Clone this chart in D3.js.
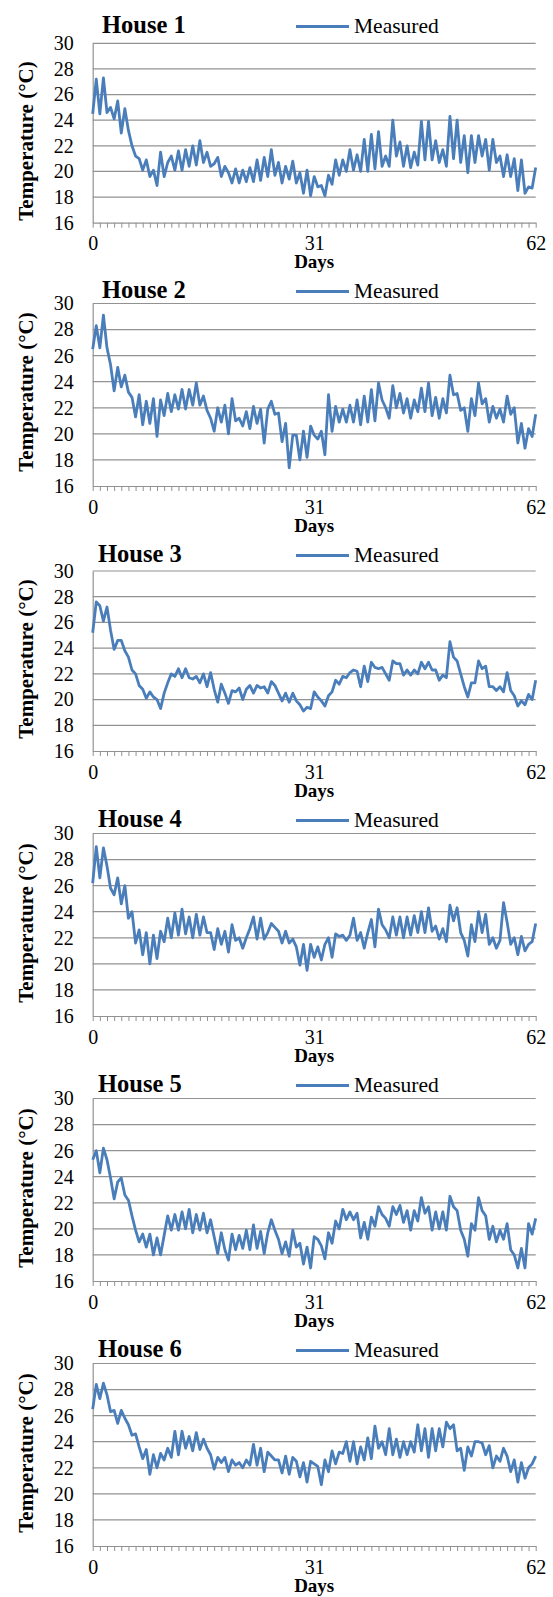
<!DOCTYPE html>
<html>
<head>
<meta charset="utf-8">
<script src="https://cdn.jsdelivr.net/npm/d3@7"></script>
<style>
  body { margin: 0; background: #fff; }
  text { font-family: "Liberation Serif", "Times New Roman", serif; fill: #000; }
</style>
</head>
<body>
<script>
// indoor temperature, two readings per day (day 0 .. 62)
const house1 = [24.5, 27.2, 24.5, 27.3, 24.6, 25.0, 24.1, 25.5, 23.0, 24.9,
  23.2, 22.0, 21.2, 21.0, 20.1, 20.9, 19.6, 20.1, 18.9, 21.5,
  19.6, 20.7, 21.2, 20.1, 21.6, 20.1, 21.7, 20.4, 22.0, 20.5,
  22.4, 20.7, 21.5, 20.4, 20.6, 21.1, 19.6, 20.4, 19.9, 19.1,
  20.2, 19.1, 20.1, 19.2, 20.3, 19.2, 20.9, 19.3, 21.1, 19.6,
  21.7, 19.7, 20.7, 19.1, 20.4, 19.4, 20.8, 19.1, 19.9, 18.3,
  20.1, 18.1, 19.6, 18.8, 18.9, 18.1, 19.7, 19.0, 20.9, 19.7,
  20.9, 20.0, 21.7, 20.1, 21.3, 20.0, 22.5, 20.0, 22.9, 20.2,
  23.1, 20.4, 21.2, 20.4, 24.0, 21.2, 22.3, 20.4, 22.0, 20.3,
  21.5, 20.5, 23.9, 20.9, 23.9, 20.9, 22.4, 20.7, 21.7, 20.4,
  24.3, 21.0, 24.0, 20.7, 22.8, 19.9, 22.8, 20.7, 22.8, 21.2,
  22.5, 20.1, 22.5, 20.7, 21.2, 19.6, 21.3, 19.6, 21.0, 18.5,
  20.9, 18.3, 18.8, 18.7, 20.3];
const house2 = [26.5, 28.3, 26.6, 29.1, 26.6, 25.3, 23.3, 25.1, 23.6, 24.5,
  23.2, 22.8, 21.3, 23.0, 20.7, 22.5, 20.8, 22.7, 19.8, 22.6,
  21.4, 23.1, 21.7, 23.0, 21.9, 23.4, 21.9, 23.4, 22.2, 23.9,
  22.2, 22.9, 21.8, 21.2, 20.2, 22.0, 20.9, 22.2, 20.0, 22.7,
  21.0, 21.2, 20.6, 21.7, 20.4, 22.1, 20.8, 21.9, 19.3, 21.9,
  22.5, 21.5, 21.6, 19.4, 20.8, 17.4, 19.9, 19.9, 18.0, 20.2,
  18.2, 20.6, 19.9, 19.6, 20.2, 18.4, 23.0, 20.2, 22.1, 20.9,
  21.9, 20.9, 22.2, 20.9, 22.6, 20.7, 22.9, 20.9, 23.4, 21.0,
  23.9, 22.6, 22.0, 21.2, 23.7, 22.0, 23.1, 21.6, 22.7, 21.2,
  22.6, 21.7, 23.5, 21.7, 23.9, 21.4, 22.8, 21.2, 22.7, 21.6,
  24.5, 23.0, 23.1, 21.8, 22.0, 20.2, 22.7, 21.4, 23.9, 22.3,
  22.7, 20.9, 22.1, 21.2, 21.9, 20.9, 22.9, 21.5, 22.0, 19.3,
  20.8, 18.9, 20.4, 19.8, 21.5];
const house3 = [25.2, 27.6, 27.3, 26.1, 27.2, 25.4, 23.9, 24.6, 24.6, 23.8,
  23.3, 22.3, 22.0, 21.1, 20.8, 20.1, 20.6, 20.2, 20.0, 19.3,
  20.5, 21.3, 22.0, 21.8, 22.4, 21.7, 22.4, 21.7, 21.6, 21.8,
  21.3, 22.0, 21.0, 22.1, 20.8, 19.8, 21.2, 20.5, 19.7, 20.7,
  20.6, 20.9, 20.0, 20.8, 21.1, 20.5, 21.1, 20.9, 21.0, 20.5,
  21.4, 21.1, 20.5, 19.9, 20.5, 19.8, 20.5, 19.9, 19.6, 19.1,
  19.4, 19.3, 20.6, 20.2, 19.9, 19.5, 20.3, 20.6, 21.5, 21.2,
  21.8, 21.7, 22.1, 22.3, 22.2, 21.0, 22.6, 21.4, 22.9, 22.5,
  22.4, 22.5, 22.0, 21.5, 23.0, 22.8, 22.8, 21.9, 22.3, 21.9,
  22.3, 22.0, 22.9, 22.4, 22.9, 22.3, 22.3, 21.5, 21.9, 21.7,
  24.5, 23.3, 23.0, 22.0, 21.0, 20.2, 21.3, 21.3, 23.0, 22.4,
  22.6, 21.0, 21.0, 20.7, 21.0, 20.6, 22.1, 20.7, 20.3, 19.5,
  19.9, 19.6, 20.4, 20.0, 21.5];
const house4 = [26.2, 29.0, 26.6, 28.9, 27.5, 25.8, 25.3, 26.6, 24.6, 26.0,
  23.5, 24.0, 21.6, 22.6, 20.7, 22.4, 20.0, 22.2, 20.4, 22.5,
  21.7, 23.5, 22.0, 23.9, 22.2, 24.2, 22.3, 23.6, 22.0, 23.8,
  22.2, 23.6, 22.4, 22.4, 21.1, 22.7, 21.5, 22.5, 20.9, 23.0,
  21.8, 22.0, 21.2, 22.0, 22.7, 23.6, 21.9, 23.5, 21.9, 22.4,
  23.1, 22.8, 22.5, 21.6, 22.5, 21.6, 21.9, 21.3, 19.9, 21.5,
  19.5, 21.5, 20.5, 21.3, 20.3, 21.5, 22.0, 20.5, 22.3, 22.1,
  22.2, 21.8, 22.2, 23.5, 21.8, 22.4, 21.2, 22.4, 23.4, 21.3,
  24.2, 23.0, 22.6, 22.0, 23.6, 22.2, 23.6, 22.0, 23.6, 22.2,
  23.7, 22.4, 24.0, 22.4, 24.3, 22.5, 22.9, 21.9, 22.7, 21.7,
  24.5, 23.3, 24.3, 22.4, 21.8, 20.6, 23.0, 21.7, 24.0, 22.4,
  23.8, 21.5, 22.0, 21.2, 21.8, 24.7, 23.2, 21.5, 22.0, 20.7,
  22.1, 21.0, 21.5, 21.7, 23.1];
const house5 = [25.3, 26.0, 24.3, 26.2, 25.3, 23.9, 22.3, 23.6, 23.9, 22.6,
  22.2, 21.0, 19.9, 19.0, 19.6, 18.6, 19.6, 18.0, 19.3, 18.0,
  19.5, 21.0, 19.9, 21.1, 19.9, 21.3, 20.0, 21.5, 19.7, 21.1,
  19.9, 21.2, 19.7, 20.7, 19.4, 18.1, 19.7, 18.4, 17.6, 19.6,
  18.4, 19.5, 18.5, 19.9, 18.4, 20.3, 18.5, 19.8, 18.1, 19.7,
  20.7, 19.9, 19.2, 18.1, 19.0, 17.9, 19.9, 18.6, 18.9, 17.3,
  18.6, 17.0, 19.4, 19.2, 18.7, 17.7, 19.7, 18.9, 20.6, 20.0,
  21.5, 20.7, 21.3, 20.7, 21.2, 19.3, 20.5, 19.2, 20.9, 20.2,
  21.7, 21.1, 20.8, 20.2, 21.7, 21.1, 21.8, 20.5, 21.4, 19.9,
  21.4, 20.6, 22.4, 21.2, 21.7, 19.9, 21.3, 20.0, 21.3, 19.9,
  22.5, 21.7, 21.4, 19.9, 19.2, 17.9, 20.4, 19.9, 22.4, 21.4,
  21.0, 19.2, 20.2, 19.0, 19.9, 19.2, 20.4, 18.4, 18.0, 17.0,
  18.5, 17.0, 20.4, 19.6, 20.8];
const house6 = [26.5, 28.4, 27.3, 28.5, 27.6, 26.3, 26.4, 25.4, 26.4, 25.8,
  25.3, 24.5, 24.6, 23.6, 22.7, 23.4, 21.5, 23.0, 22.0, 23.1,
  22.6, 23.5, 22.8, 24.8, 23.0, 24.8, 23.5, 24.4, 23.3, 24.7,
  23.4, 24.2, 23.5, 23.0, 21.9, 22.8, 22.4, 22.8, 21.7, 22.6,
  22.2, 22.4, 22.0, 22.6, 22.2, 23.8, 22.2, 23.5, 21.7, 23.2,
  22.9, 22.6, 22.6, 21.6, 22.9, 21.5, 22.8, 22.5, 21.3, 22.4,
  20.9, 22.5, 22.3, 22.1, 20.7, 22.6, 21.7, 23.3, 22.3, 23.2,
  23.1, 24.0, 22.5, 24.0, 22.3, 23.6, 22.6, 24.3, 22.7, 25.2,
  23.5, 24.0, 23.0, 25.0, 23.0, 24.2, 22.8, 24.0, 23.0, 24.0,
  23.2, 25.3, 23.3, 25.0, 22.8, 25.0, 23.3, 25.0, 23.6, 25.5,
  25.0, 25.3, 23.3, 23.5, 21.8, 23.6, 22.9, 24.0, 24.0, 23.9,
  23.0, 23.7, 22.0, 22.9, 22.5, 23.5, 22.9, 21.7, 22.6, 20.9,
  22.4, 21.2, 22.0, 22.3, 22.9];

const houseNames = ["House 1", "House 2", "House 3", "House 4", "House 5", "House 6"];
const series = [house1, house2, house3, house4, house5, house6];
const tempTicks = [16, 18, 20, 22, 24, 26, 28, 30];
const dayLabels = [0, 31, 62];
const dayTicks = d3.range(0, 63);
const sampleStep = 0.5;

const W = 553, H = 1597;
const left = 92.7, right = 535.7;
const lineColor = "#4a7ebb";
const gridColor = "#929292";

// layout of each panel (pixel positions)
const panels = [
  {top: 43.3, bottom: 222.7, titleX: 102, base: 32.5, yTitle: 141},
  {top: 303.5, bottom: 486, titleX: 102, base: 297.5, yTitle: 392},
  {top: 571, bottom: 751, titleX: 98, base: 561.5, yTitle: 659},
  {top: 833.5, bottom: 1016, titleX: 98, base: 826.5, yTitle: 923},
  {top: 1098.5, bottom: 1281, titleX: 98, base: 1091.5, yTitle: 1188},
  {top: 1363.5, bottom: 1546, titleX: 98, base: 1356.5, yTitle: 1453}
];

const svg = d3.select("body").append("svg")
  .attr("width", W)
  .attr("height", H);

svg.append("rect").attr("width", W).attr("height", H).attr("fill", "#fff");

const x = d3.scaleLinear().domain([0, 62]).range([left, right]);

panels.forEach(function(p, k) {
  const y = d3.scaleLinear().domain([16, 30]).range([p.bottom, p.top]);
  const g = svg.append("g");

  // gridlines
  g.selectAll(".grid")
    .data(tempTicks.filter(t => t > 16))
    .enter().append("line")
    .attr("x1", left).attr("x2", right)
    .attr("y1", d => y(d)).attr("y2", d => y(d))
    .attr("stroke", gridColor)
    .attr("stroke-width", 1.2);

  // left axis
  const yAxis = g.append("g")
    .attr("transform", `translate(${left},0)`)
    .call(d3.axisLeft(y).tickValues(tempTicks).tickSize(0).tickPadding(19).tickFormat(d3.format("d")));
  yAxis.select(".domain").attr("stroke", gridColor).attr("stroke-width", 1.2);
  yAxis.selectAll("text")
    .attr("font-size", 20)
    .attr("font-family", "Liberation Serif")
    .attr("fill", "#000");

  // bottom axis with a tick per day
  const xAxis = g.append("g")
    .attr("transform", `translate(0,${p.bottom})`)
    .call(d3.axisBottom(x).tickValues(dayTicks).tickSize(5).tickSizeOuter(0)
      .tickFormat(d => dayLabels.includes(d) ? d : ""));
  xAxis.select(".domain").attr("stroke", gridColor).attr("stroke-width", 1.2);
  xAxis.selectAll(".tick line").attr("stroke", gridColor).attr("stroke-width", 1);
  xAxis.selectAll("text")
    .attr("y", 27.5)
    .attr("dy", null)
    .attr("font-size", 20)
    .attr("font-family", "Liberation Serif")
    .attr("fill", "#000");

  // measured series
  const line = d3.line()
    .x((d, i) => x(i * sampleStep))
    .y(d => y(d));

  g.append("path")
    .datum(series[k])
    .attr("fill", "none")
    .attr("stroke", lineColor)
    .attr("stroke-width", 2.8)
    .attr("stroke-linejoin", "round")
    .attr("d", line);

  // title
  g.append("text")
    .attr("x", p.titleX).attr("y", p.base)
    .attr("font-size", 24.5)
    .attr("font-weight", "bold")
    .text(houseNames[k]);

  // legend
  g.append("line")
    .attr("x1", 296).attr("x2", 349)
    .attr("y1", p.base - 6).attr("y2", p.base - 6)
    .attr("stroke", lineColor)
    .attr("stroke-width", 2.8);
  g.append("text")
    .attr("x", 354).attr("y", p.base)
    .attr("font-size", 21.5)
    .text("Measured");

  // axis titles
  g.append("text")
    .attr("x", (left + right) / 2).attr("y", p.bottom + 45.5)
    .attr("text-anchor", "middle")
    .attr("font-size", 19)
    .attr("font-weight", "bold")
    .text("Days");

  g.append("text")
    .attr("transform", `translate(33,${p.yTitle}) rotate(-90)`)
    .attr("text-anchor", "middle")
    .attr("font-size", 21)
    .attr("font-weight", "bold")
    .text("Temperature (°C)");
});
</script>
</body>
</html>
